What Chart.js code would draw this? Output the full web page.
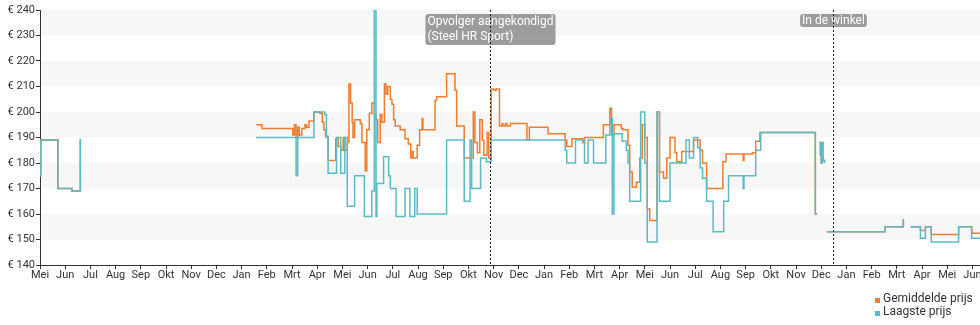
<!DOCTYPE html>
<html>
<head>
<meta charset="utf-8">
<script src="https://cdn.jsdelivr.net/npm/chart.js@4.4.1/dist/chart.umd.min.js"></script>
<style>
  html, body { margin: 0; padding: 0; background: #fff; }
</style>
</head>
<body>
<canvas id="priceChart" width="980" height="325"></canvas>
<script>
const monthNames = ['Jan', 'Feb', 'Mrt', 'Apr', 'Mei', 'Jun', 'Jul', 'Aug', 'Sep', 'Okt', 'Nov', 'Dec'];
const axisStart = '2016-05-01';
const axisEnd = '2019-06-10';

const avgColor = '#ee7d2f';
const lowColor = '#5cbac5';

// laagste prijs per wijziging (null = geen aanbod)
const lowestDates = [
  '2016-05-01', '2016-05-02', '2016-05-23', '2016-06-09', '2016-06-19', '2016-06-20', '2016-06-21',
  '2017-01-19', '2017-03-06', '2017-03-08', '2017-03-28', '2017-04-10', '2017-04-12', '2017-04-14',
  '2017-04-24', '2017-04-29', '2017-05-04', '2017-05-07', '2017-05-16', '2017-05-28', '2017-06-06',
  '2017-06-09', '2017-06-11', '2017-06-12', '2017-06-20', '2017-06-26', '2017-06-28', '2017-07-05',
  '2017-07-16', '2017-07-22', '2017-07-28', '2017-07-31', '2017-09-05', '2017-09-26', '2017-10-03',
  '2017-10-05', '2017-10-16', '2017-10-23', '2017-10-29', '2018-01-27', '2018-01-29', '2018-02-08',
  '2018-02-18', '2018-02-22', '2018-02-28', '2018-03-15', '2018-03-20', '2018-03-23', '2018-03-25',
  '2018-04-04', '2018-04-09', '2018-04-11', '2018-04-13', '2018-04-26', '2018-05-01', '2018-05-04',
  '2018-05-16', '2018-05-19', '2018-06-01', '2018-06-20', '2018-06-24', '2018-06-29', '2018-07-04',
  '2018-07-07', '2018-07-10', '2018-07-15', '2018-07-23', '2018-08-05', '2018-08-11', '2018-08-29',
  '2018-08-30', '2018-09-13', '2018-09-19', '2018-11-24', '2018-11-26', '2018-11-27',
  '2018-11-29', '2018-11-30', '2018-12-01', '2018-12-02', '2018-12-03', '2018-12-05', '2018-12-06',
  '2018-12-08', '2019-02-16', '2019-03-09', '2019-03-10',
  '2019-03-18', '2019-03-30', '2019-04-05', '2019-04-12', '2019-05-15', '2019-05-31', '2019-06-10'
];
const lowestPrices = [
  175, 189, 170, 169, 189, 189, null,
  190, 175, 190, 200, 199, 190, 176,
  190, 176, 190, 163, 175, 159, 169,
  240, 159, 172, 182.5, 175, 170, 159,
  170, 159, 170, 160, 189, 165, 189,
  170, 182, 180.5, 189, 185, 180, 189,
  180, 189, 180, 191, 197.5, 160, 191.5,
  188.5, 185, 180, 165, 200, 180, 149,
  200, 165, 180, 189, 182, 190, 186,
  178, 174, 165, 153, 165, 175, 170,
  175, 185, 192, 160, 160, null,
  188, 183, 180, 188, 181, 180, null,
  153, 155, 158, null,
  155, 150.5, 155, 149, 155, 150.5, 150.5
];

// gemiddelde prijs per wijziging
const averageDates = [
  '2016-05-01', '2016-05-02', '2016-05-23', '2016-06-09', '2016-06-19', '2016-06-20', '2016-06-21',
  '2017-01-19', '2017-01-26', '2017-03-02', '2017-03-04', '2017-03-06', '2017-03-08', '2017-03-10',
  '2017-03-13', '2017-03-17', '2017-03-19', '2017-03-22', '2017-03-28', '2017-04-04', '2017-04-07',
  '2017-04-09', '2017-04-11', '2017-04-14', '2017-04-23', '2017-04-26', '2017-04-29', '2017-05-02',
  '2017-05-04', '2017-05-07', '2017-05-09', '2017-05-11', '2017-05-13', '2017-05-14', '2017-05-16',
  '2017-05-23', '2017-05-25', '2017-05-29', '2017-05-31', '2017-06-03', '2017-06-06', '2017-06-09',
  '2017-06-11', '2017-06-13', '2017-06-16', '2017-06-18', '2017-06-21', '2017-06-23', '2017-06-25',
  '2017-06-28', '2017-06-30', '2017-07-02', '2017-07-04', '2017-07-10', '2017-07-16', '2017-07-20',
  '2017-07-23', '2017-07-25', '2017-07-26', '2017-07-31', '2017-08-03', '2017-08-06', '2017-08-07',
  '2017-08-22', '2017-08-24', '2017-09-05', '2017-09-15', '2017-09-17', '2017-09-26', '2017-10-07',
  '2017-10-09', '2017-10-12', '2017-10-15', '2017-10-18', '2017-10-20', '2017-10-24', '2017-10-26',
  '2017-10-29', '2017-11-01', '2017-11-04', '2017-11-08', '2017-11-11', '2017-11-12', '2017-11-15',
  '2017-11-17', '2017-11-21', '2017-12-11', '2017-12-14', '2018-01-06', '2018-01-27', '2018-01-29',
  '2018-02-04', '2018-02-16', '2018-02-18', '2018-03-12', '2018-03-20', '2018-03-22', '2018-03-25',
  '2018-04-03', '2018-04-05', '2018-04-11', '2018-04-13', '2018-04-16', '2018-04-21', '2018-04-25',
  '2018-04-28', '2018-05-01', '2018-05-04', '2018-05-07', '2018-05-16', '2018-05-19', '2018-05-24',
  '2018-05-28', '2018-06-01', '2018-06-07', '2018-06-09', '2018-06-15', '2018-06-29', '2018-07-07',
  '2018-07-10', '2018-07-15', '2018-08-04', '2018-08-08', '2018-08-29', '2018-08-30', '2018-09-09',
  '2018-09-13', '2018-09-18', '2018-11-24', '2018-11-26', '2018-11-27',
  '2018-11-29', '2018-11-30', '2018-12-01', '2018-12-02', '2018-12-03', '2018-12-05', '2018-12-06',
  '2018-12-08', '2019-02-16', '2019-03-09', '2019-03-10',
  '2019-03-18', '2019-03-30', '2019-04-05', '2019-04-12', '2019-05-15', '2019-05-31', '2019-06-10'
];
const averagePrices = [
  175, 189, 170, 169, 189, 189, null,
  195, 193.5, 191, 195, 190, 194, 191,
  193.5, 195, 194, 196.5, 200, 199.5, 196,
  193, 190.5, 181, 189.5, 186.5, 185, 190,
  185, 188, 211, 203.5, 196, 190, 197,
  195.5, 188, 177, 193, 199.5, 203.5, 199,
  197, 188, 199, 196, 211, 207, 210,
  205, 203, 197, 194.5, 193, 189.5, 187.5,
  182, 184.5, 182, 187, 193, 197.5, 193,
  204.5, 206, 215, 208.5, 194.5, 182, 200,
  188, 184, 197, 189, 183, 192, 182,
  209, 208.5, 209, 194.5, 195.5, 194.5, 195.5,
  194.5, 195.5, 189, 194, 191.5, 189, 186.5,
  189.5, 188, 190, 195, 201.5, 191, 195,
  193.5, 193, 187, 176.5, 170.5, 172.5, 182,
  195, 190, 162, 157.5, 200, 176.5, 174,
  182, 190, 184, 180.5, 184.5, 189, 185,
  180, 170, 180.5, 183.5, 181, 183.5, 184,
  188.5, 192, 160, 160, null,
  188, 183, 180, 188, 181, 180, null,
  153, 155, 158, null,
  155, 153.5, 155, 152, 155, 152.5, 152.5
];

// gebeurtenissen boven in de grafiek
const eventDates = ['2017-10-28', '2018-12-16'];
const eventLabels = [['Opvolger aangekondigd', '(Steel HR Sport)'], ['In de winkel']];

// datum -> maanden sinds begin van de as
function monthPos(dateStr) {
  const [y, m, d] = dateStr.split('-').map(Number);
  const [y0, m0] = axisStart.split('-').map(Number);
  const daysInMonth = new Date(y, m, 0).getDate();
  return (y - y0) * 12 + (m - m0) + (d - 1) / daysInMonth;
}

function toPoints(dates, prices) {
  return dates.map((d, i) => ({ x: monthPos(d), y: prices[i] }));
}

const font = { family: 'Roboto', size: 11 };

const decorations = {
  id: 'decorations',
  beforeDatasetsDraw(chart) {
    const { ctx, chartArea, scales: { y } } = chart;
    ctx.save();
    ctx.fillStyle = '#f7f7f7';
    for (let v = 150; v < 240; v += 20) {
      const top = y.getPixelForValue(v + 10);
      const bottom = y.getPixelForValue(v);
      ctx.fillRect(chartArea.left + 1, top, chartArea.right - chartArea.left - 1, bottom - top);
    }
    ctx.restore();
  },
  afterDatasetsDraw(chart) {
    const { ctx, chartArea, scales: { x } } = chart;
    ctx.save();
    ctx.font = '12px Roboto';
    ctx.textBaseline = 'middle';
    eventDates.forEach((d, i) => {
      const px = Math.round(x.getPixelForValue(monthPos(d))) + 0.5;
      const lines = eventLabels[i];
      const w = Math.max(...lines.map(l => ctx.measureText(l).width)) + 4;
      const h = lines.length == 1 ? 13 : 31;
      const top = chartArea.top + 4;
      ctx.fillStyle = 'rgba(140, 140, 140, 0.85)';
      ctx.beginPath();
      ctx.roundRect(px - w / 2, top, w, h, 3);
      ctx.fill();
      ctx.fillStyle = '#fff';
      lines.forEach((l, j) => {
        ctx.fillText(l, px - w / 2 + 2, top + (lines.length == 1 ? 6.5 : 8 + j * 15));
      });
      ctx.strokeStyle = '#222';
      ctx.lineWidth = 1;
      ctx.setLineDash([2, 2]);
      ctx.beginPath();
      ctx.moveTo(px, chartArea.top);
      ctx.lineTo(px, chartArea.bottom);
      ctx.stroke();
      ctx.setLineDash([]);
    });
    ctx.restore();
  },
  afterDraw(chart) {
    // legenda rechtsonder, onder elkaar
    const { ctx } = chart;
    const items = [['Gemiddelde prijs', avgColor], ['Laagste prijs', lowColor]];
    ctx.save();
    ctx.font = '12px Roboto';
    ctx.textBaseline = 'middle';
    items.forEach(([label, color], i) => {
      const cy = 299 + i * 13;
      ctx.fillStyle = color;
      ctx.fillRect(875, cy - 1, 5, 5);
      ctx.fillStyle = '#333';
      ctx.fillText(label, 883, cy);
    });
    ctx.restore();
  }
};

new Chart(document.getElementById('priceChart'), {
  type: 'line',
  data: {
    datasets: [
      {
        label: 'Gemiddelde prijs',
        data: toPoints(averageDates, averagePrices),
        borderColor: avgColor,
        borderWidth: 1.5,
        stepped: 'before',
        pointRadius: 0,
        spanGaps: false,
        order: 2
      },
      {
        label: 'Laagste prijs',
        data: toPoints(lowestDates, lowestPrices),
        borderColor: lowColor,
        borderWidth: 1.5,
        stepped: 'before',
        pointRadius: 0,
        spanGaps: false,
        order: 1
      }
    ]
  },
  options: {
    responsive: false,
    animation: false,
    devicePixelRatio: 1,
    layout: { padding: { top: 10, right: 0, bottom: 42, left: 0 } },
    plugins: { legend: { display: false }, tooltip: { enabled: false } },
    scales: {
      x: {
        type: 'linear',
        min: 0,
        max: monthPos(axisEnd),
        afterBuildTicks: scale => {
          scale.ticks = [];
          for (let i = 0; i <= Math.floor(monthPos(axisEnd)); i++) scale.ticks.push({ value: i });
        },
        afterFit: scale => {
          scale.height = 18;
          scale.paddingLeft = 0;
          scale.paddingRight = 0;
        },
        ticks: {
          callback: v => monthNames[(4 + v) % 12],
          font: font,
          color: '#333',
          padding: 0,
          maxRotation: 0,
          autoSkip: false
        },
        grid: { display: true, drawOnChartArea: false, drawTicks: true, tickLength: 4, color: '#333' },
        border: { display: true, color: '#333' }
      },
      y: {
        min: 140,
        max: 240,
        afterFit: scale => {
          scale.width = 40;
          scale.paddingTop = 0;
          scale.paddingBottom = 0;
        },
        ticks: {
          stepSize: 10,
          callback: v => '€ ' + v,
          font: font,
          color: '#333',
          padding: 1
        },
        grid: { display: true, drawOnChartArea: false, drawTicks: true, tickLength: 4, color: '#333' },
        border: { display: true, color: '#333' }
      }
    }
  },
  plugins: [decorations]
});
</script>
</body>
</html>
